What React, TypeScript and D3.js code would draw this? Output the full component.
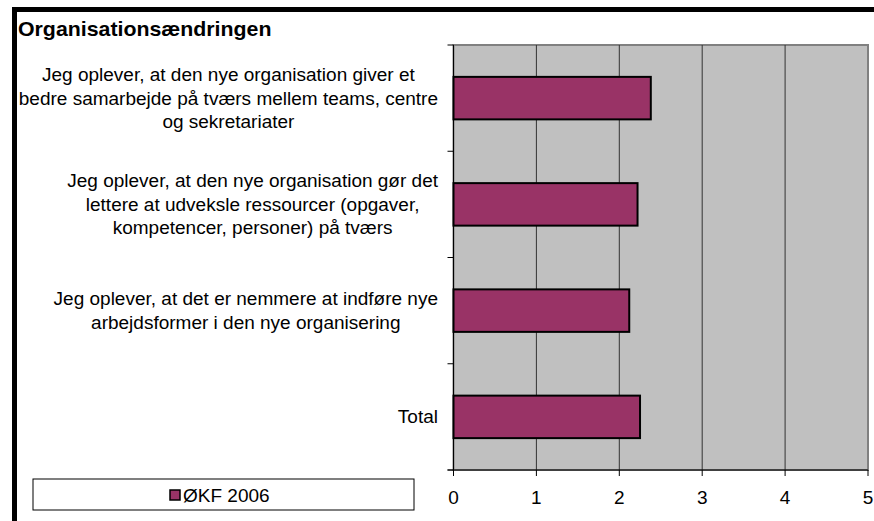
import React from 'react';
import * as d3 from 'd3';

const title = 'Organisationsændringen';
const categories = [
  'Jeg oplever, at den nye organisation giver et|bedre samarbejde på tværs mellem teams, centre|og sekretariater',
  'Jeg oplever, at den nye organisation gør det|lettere at udveksle ressourcer (opgaver,|kompetencer, personer) på tværs',
  'Jeg oplever, at det er nemmere at indføre nye|arbejdsformer i den nye organisering',
  'Total',
];
const values = [2.38, 2.22, 2.12, 2.25];
const seriesName = 'ØKF 2006';
const xTicks = [0, 1, 2, 3, 4, 5];

const width = 874;
const height = 521;
const margin = { top: 45, right: 6, bottom: 51, left: 453.5 };
const font = 'Liberation Sans, Arial, sans-serif';
const labelSize = 18.5;
const sx = 1.027; // the original text is slightly wide
const barColor = '#993366';

// measure text so multi-line labels can be right-aligned as a block
const ctx = document.createElement('canvas').getContext('2d');
const measure = (s: string) => {
  if (!ctx) return s.length * 9;
  ctx.font = `${labelSize}px ${font}`;
  return ctx.measureText(s).width * sx;
};

export default function App() {
  const x = d3.scaleLinear().domain([0, 5]).range([margin.left, width - margin.right]);
  const y = d3.scaleBand<string>()
    .domain(categories)
    .range([margin.top, height - margin.bottom])
    .paddingInner(0.6)
    .paddingOuter(0.3);
  const step = y.step();
  const plotTop = margin.top;
  const plotBottom = height - margin.bottom;
  const bounds = d3.range(categories.length + 1).map(i => plotTop + i * step);

  return (
    <svg width={width} height={height} style={{ position: 'absolute', left: 0, top: 0 }} fontFamily={font}>
      <rect x={0} y={0} width={width} height={height} fill="#fff" />
      {/* outer frame, cut off at right and bottom */}
      <rect x={14.5} y={9.5} width={width + 20} height={height + 20} fill="none" stroke="#000" strokeWidth={5} />
      <text transform={`translate(18,36) scale(1.04,1)`} fontSize={20.5} fontWeight="bold">{title}</text>

      {/* plot area */}
      <rect x={x(0)} y={plotTop} width={x(5) - x(0)} height={plotBottom - plotTop} fill="#c0c0c0" stroke="#808080" strokeWidth={2} />
      {xTicks.slice(1, -1).map(t => (
        <line key={t} x1={x(t)} x2={x(t)} y1={plotTop} y2={plotBottom} stroke="#333" strokeWidth={1} />
      ))}

      {categories.map((c, i) => (
        <rect key={c} x={x(0)} y={y(c)} width={x(values[i]) - x(0)} height={y.bandwidth()}
          fill={barColor} stroke="#000" strokeWidth={2} />
      ))}

      {/* y axis */}
      <line x1={x(0)} x2={x(0)} y1={plotTop} y2={plotBottom} stroke="#000" strokeWidth={1} />
      {bounds.map((b, i) => (
        <line key={i} x1={x(0) - 6} x2={x(0)} y1={b} y2={b} stroke="#000" strokeWidth={1} />
      ))}
      {/* x axis */}
      <line x1={x(0) - 6} x2={x(5)} y1={plotBottom} y2={plotBottom} stroke="#000" strokeWidth={1} />
      {xTicks.map(t => (
        <g key={t}>
          <line x1={x(t)} x2={x(t)} y1={plotBottom} y2={plotBottom + 6} stroke="#000" strokeWidth={1} />
          <text transform={`translate(${x(t)},503.5) scale(${sx},1)`} fontSize={labelSize} textAnchor="middle">{t}</text>
        </g>
      ))}

      {/* category labels */}
      {categories.map(c => {
        const lines = c.split('|');
        const cy = (y(c) ?? 0) + y.bandwidth() / 2;
        const lh = 23.5;
        const blockW = d3.max(lines, measure) ?? 0;
        const cx = 438 - blockW / 2;
        return (
          <text key={c} transform={`translate(${cx},0) scale(${sx},1)`} fontSize={labelSize} textAnchor="middle">
            {lines.map((l, j) => (
              <tspan key={j} x={0} y={cy + (j - (lines.length - 1) / 2) * lh + 6.5}>{l}</tspan>
            ))}
          </text>
        );
      })}

      {/* legend */}
      <rect x={33} y={479} width={381} height={31} fill="#fff" stroke="#000" strokeWidth={1} />
      <rect x={170} y={490} width={10} height={10} fill={barColor} stroke="#000" strokeWidth={1.5} />
      <text transform={`translate(183,501.5) scale(${sx},1)`} fontSize={labelSize}>{seriesName}</text>
    </svg>
  );
}
